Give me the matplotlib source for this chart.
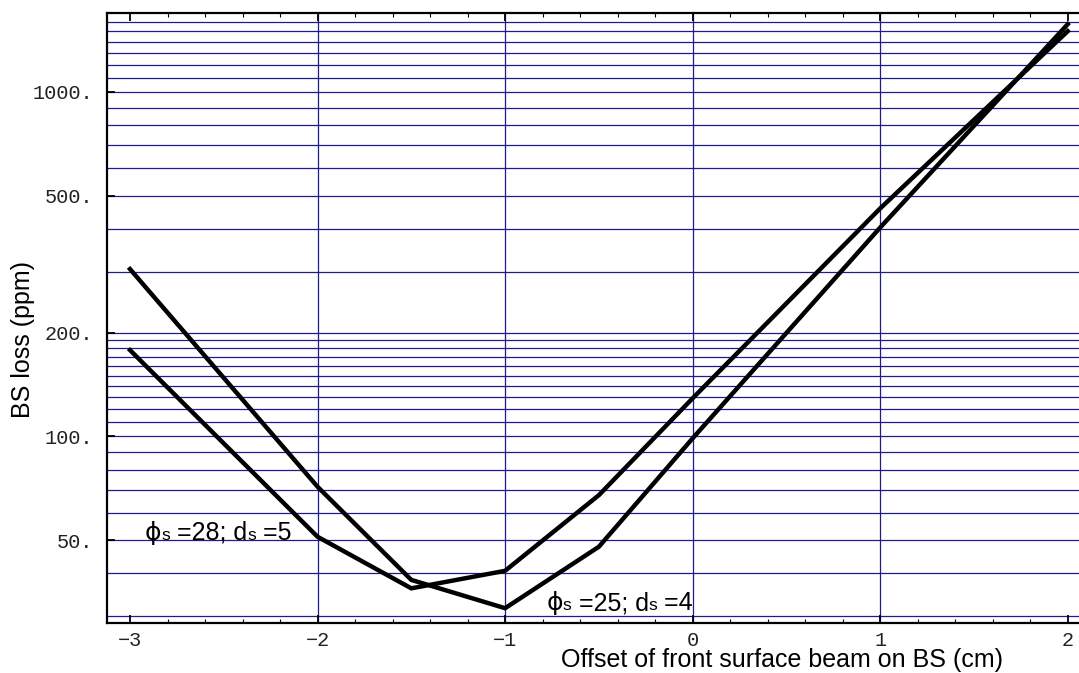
import matplotlib
matplotlib.use("Agg")
import matplotlib.pyplot as plt
from matplotlib.ticker import FixedLocator, MultipleLocator, NullFormatter
from matplotlib.offsetbox import TextArea, HPacker, AnnotationBbox

# ---- data ----
x_offset = [-3, -2, -1.5, -1, -0.5, 0, 1, 2]
loss_a = [306, 71.4, 38.3, 31.7, 47.8, 98.7, 404, 1573]
loss_b = [178, 51.1, 36.2, 40.7, 67.5, 129, 459, 1501]

y_ticks = [50, 100, 200, 500, 1000]
y_ticklabels = ["50.", "100.", "200.", "500.", "1000."]
x_ticks = [-3, -2, -1, 0, 1, 2]
x_ticklabels = ["\u22123", "\u22122", "\u22121", "0", "1", "2"]
y_grid = [30, 40, 50, 60, 70, 80, 90, 100, 110, 120, 130, 140, 150, 160, 170,
          180, 190, 200, 300, 400, 500, 600, 700, 800, 900, 1000, 1100, 1200,
          1300, 1400, 1500, 1600]
x_grid = [-2, -1, 0, 1]

label1 = ["\u03d5", "s", " =28; d", "s", " =5"]
label2 = ["\u03d5", "s", " =25; d", "s", " =4"]

GRID = "#1c1c8e"

fig = plt.figure(figsize=(10.79, 6.73), dpi=100)
ax = fig.add_axes([107/1079, 1-622.7/673, 1-107/1079, (622.7-13)/673])

ax.set_yscale("log")
ax.set_xlim(-3.1226, 2.06)
ax.set_ylim(28.77, 1695)

for v in y_grid:
    ax.axhline(v, color=GRID, lw=0.9, zorder=1)
for v in x_grid:
    ax.axvline(v, color=GRID, lw=0.9, zorder=1)

ax.plot(x_offset, loss_a, color="black", lw=3.2, zorder=3, solid_joinstyle="miter")
ax.plot(x_offset, loss_b, color="black", lw=3.2, zorder=3, solid_joinstyle="miter")

ax.spines["right"].set_visible(False)
for s in ["left", "bottom", "top"]:
    ax.spines[s].set_linewidth(1.6)
    ax.spines[s].set_zorder(4)

ax.yaxis.set_major_locator(FixedLocator(y_ticks))
ax.yaxis.set_minor_locator(FixedLocator([]))
ax.yaxis.set_minor_formatter(NullFormatter())
ax.set_yticklabels(y_ticklabels)
ax.set_xticks(x_ticks)
ax.set_xticklabels(x_ticklabels)
ax.xaxis.set_minor_locator(MultipleLocator(0.2))

ax.tick_params(axis="x", which="major", direction="in", length=6, width=1.3,
               top=True, bottom=True, pad=6)
ax.tick_params(axis="x", which="minor", direction="in", length=3, width=0.8,
               top=True, bottom=True)
ax.tick_params(axis="y", which="major", direction="in", length=6, width=1.3,
               left=True, right=False, pad=10)
for lab in ax.get_xticklabels() + ax.get_yticklabels():
    lab.set_fontfamily("Liberation Mono")
    lab.set_fontsize(14.6)
    lab.set_color("#222222")

fig.text(782/1079, 1-660/673, "Offset of front surface beam on BS (cm)",
         ha="center", va="center", fontsize=18, family="Liberation Sans")
fig.text(23/1079, 1-339/673, "BS loss (ppm)", rotation=90,
         ha="center", va="center", fontsize=18, family="Liberation Sans")

def make_label(parts, xy, big=18, small=12.5):
    areas = []
    for p in parts:
        sz = small if p == "s" else big
        fam = ["DejaVu Sans"] if p == "\u03d5" else ["Liberation Sans"]
        areas.append(TextArea(p, textprops=dict(fontsize=sz, family=fam)))
    pack = HPacker(children=areas, align="baseline", pad=0, sep=0)
    ab = AnnotationBbox(pack, xy, xycoords="data", box_alignment=(0, 0.5),
                        frameon=False, pad=0, zorder=5)
    ax.add_artist(ab)

make_label(label1, (-2.92, 52.5))
make_label(label2, (-0.78, 32.8))

fig.savefig("out.png", dpi=100)
